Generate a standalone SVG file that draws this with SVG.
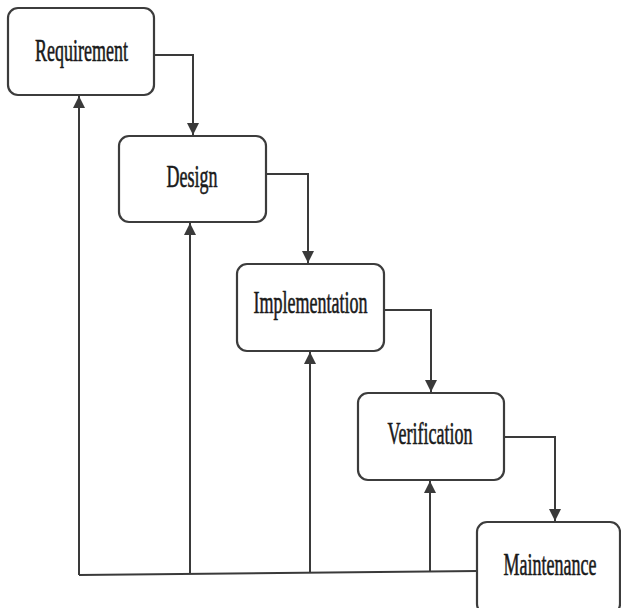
<svg xmlns="http://www.w3.org/2000/svg" width="621" height="608" viewBox="0 0 621 608">
<style>
.box{fill:#fff;stroke:#3c3c3c;stroke-width:2.2}
.lbl{font-family:"Liberation Serif","Times New Roman",serif;font-size:18px;fill:#1a1a1a;stroke:#1a1a1a;stroke-width:0.35;text-anchor:middle}
.ln{fill:none;stroke:#3a3a3a;stroke-width:2}
</style>
<defs>
<marker id="ah" viewBox="0 0 10 10" refX="10" refY="5" markerWidth="6" markerHeight="6" markerUnits="strokeWidth" orient="auto">
<path d="M0,0 L10,5 L0,10 Z" fill="#3a3a3a"/>
</marker>
</defs>
<rect width="621" height="608" fill="#fff"/>
<g id="connectors">
<path class="ln" d="M154,55 H193 V135" marker-end="url(#ah)"/>
<path class="ln" d="M266,174 H308 V263" marker-end="url(#ah)"/>
<path class="ln" d="M384,310 H431 V392" marker-end="url(#ah)"/>
<path class="ln" d="M504,437 H555 V521" marker-end="url(#ah)"/>
<path class="ln" d="M79,575 L478,571"/>
<path class="ln" d="M79,575 V96" marker-end="url(#ah)"/>
<path class="ln" d="M190,574 V223" marker-end="url(#ah)"/>
<path class="ln" d="M310,573 V352" marker-end="url(#ah)"/>
<path class="ln" d="M430,572 V481" marker-end="url(#ah)"/>
</g>
<g id="requirement">
<rect class="box" x="8" y="8" width="146" height="87" rx="10"/>
<text class="lbl" transform="translate(81.5,61) scale(1,1.75)">Requirement</text>
</g>
<g id="design">
<rect class="box" x="119" y="136" width="147" height="86" rx="10"/>
<text class="lbl" transform="translate(192,187) scale(1,1.75)">Design</text>
</g>
<g id="implementation">
<rect class="box" x="237" y="264" width="147" height="87" rx="10"/>
<text class="lbl" transform="translate(310.5,313) scale(1,1.75)">Implementation</text>
</g>
<g id="verification">
<rect class="box" x="358" y="393" width="146" height="87" rx="10"/>
<text class="lbl" transform="translate(430,444) scale(1,1.75)">Verification</text>
</g>
<g id="maintenance">
<rect class="box" x="477" y="522" width="143" height="92" rx="10"/>
<text class="lbl" transform="translate(550,575) scale(1,1.75)">Maintenance</text>
</g>
</svg>
